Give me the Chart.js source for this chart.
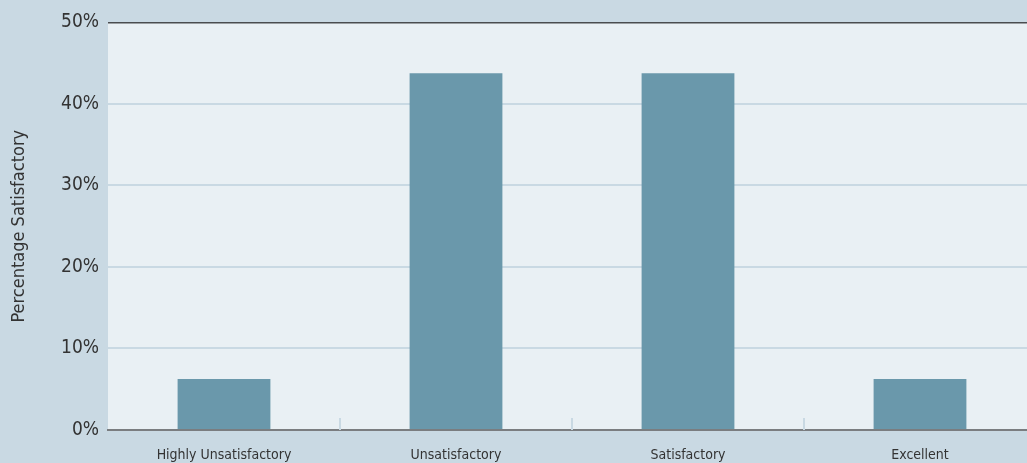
<!DOCTYPE html>
<html>
<head>
<meta charset="utf-8">
<script src="https://cdn.jsdelivr.net/npm/chart.js@4/dist/chart.umd.min.js"></script>
<style>
  html, body { margin: 0; padding: 0; background: #c9d9e3; }
  #wrap { width: 1027px; height: 463px; overflow: hidden; }
  #chart { display: block; margin-top: 2px; }
</style>
</head>
<body>
<div id="wrap"><canvas id="chart" width="1036" height="461"></canvas></div>
<script>
const ratings = ['Highly Unsatisfactory', 'Unsatisfactory', 'Satisfactory', 'Excellent'];
const shares = [6.25, 43.75, 43.75, 6.25];
const yTicks = [0, 10, 20, 30, 40, 50];

const fontFamily = '"Liberation Sans Narrow", "DejaVu Sans Condensed", sans-serif';

// plot panel fill + short marks between categories
const panelPlugin = {
  id: 'panel',
  beforeDraw(chart) {
    const { ctx, chartArea: a } = chart;
    ctx.save();
    ctx.fillStyle = '#e9f0f4';
    ctx.fillRect(a.left, a.top, a.right - a.left, a.bottom - a.top);
    ctx.restore();
  },
  afterDatasetsDraw(chart) {
    const { ctx, chartArea: a } = chart;
    const x = chart.scales.x;
    ctx.save();
    ctx.strokeStyle = '#c9d9e3';
    ctx.lineWidth = 2;
    for (let i = 1; i < ratings.length; i++) {
      const px = Math.round((x.getPixelForTick(i - 1) + x.getPixelForTick(i)) / 2);
      ctx.beginPath();
      ctx.moveTo(px, a.bottom - 12);
      ctx.lineTo(px, a.bottom);
      ctx.stroke();
    }
    ctx.restore();
  }
};

new Chart(document.getElementById('chart'), {
  type: 'bar',
  data: {
    labels: ratings,
    datasets: [{
      data: shares,
      backgroundColor: '#6a98ab',
      borderColor: '#5e8b9e',
      borderWidth: { top: 0, left: 0, right: 0, bottom: 1 },
      barPercentage: 0.8,
      categoryPercentage: 0.5
    }]
  },
  options: {
    responsive: false,
    animation: false,
    layout: { padding: { top: 12, right: 0, left: 0, bottom: 0 } },
    plugins: { legend: { display: false }, tooltip: { enabled: false } },
    scales: {
      x: {
        offset: true,
        grid: { display: false },
        border: { color: '#7a7d80', width: 2 },
        ticks: {
          color: '#333',
          font: { family: fontFamily, size: 14 },
          padding: 9,
          maxRotation: 0
        },
        afterFit(s) { s.height = 33; }
      },
      y: {
        min: 0,
        max: 50,
        afterBuildTicks(s) { s.ticks = yTicks.map(v => ({ value: v })); },
        grid: {
          color: c => c.tick.value === 50 ? '#4a4c4f' : '#c9d9e3',
          lineWidth: c => c.tick.value === 50 ? 1.5 : 2,
          drawTicks: false
        },
        border: { display: false },
        ticks: {
          color: '#333',
          font: { family: fontFamily, size: 19 },
          padding: 9,
          callback: v => v + '%'
        },
        title: {
          display: true,
          text: 'Percentage Satisfactory',
          color: '#333',
          font: { family: fontFamily, size: 18 },
          padding: { top: 9, bottom: 4 }
        },
        afterFit(s) { s.width = 108; }
      }
    }
  },
  plugins: [panelPlugin]
});
</script>
</body>
</html>
